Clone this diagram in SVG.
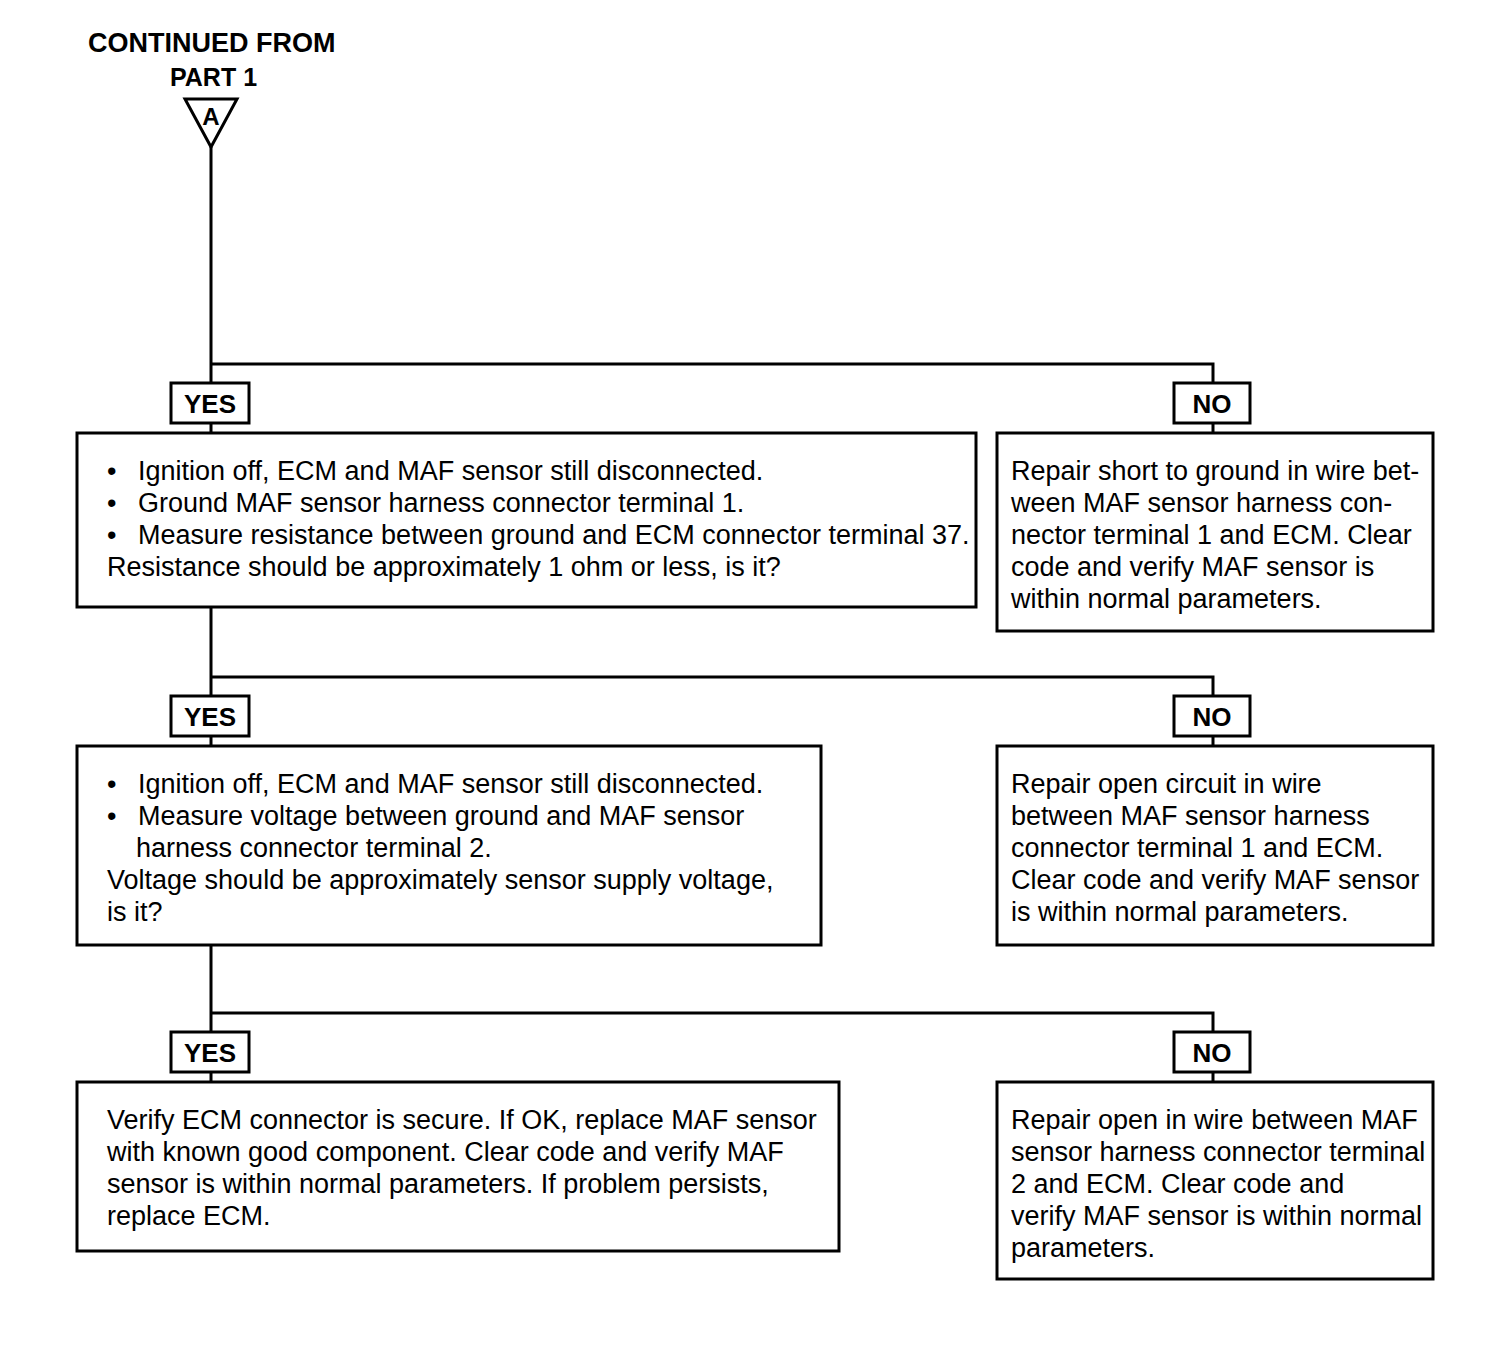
<svg xmlns="http://www.w3.org/2000/svg" width="1504" height="1348" viewBox="0 0 1504 1348">
<style>
.bg{fill:#fff}
.box{fill:#fff;stroke:#000;stroke-width:3}
.ln{fill:none;stroke:#000;stroke-width:3}
.t{font-family:"Liberation Sans",Arial,sans-serif;font-size:27px;fill:#000}
.b{font-family:"Liberation Sans",Arial,sans-serif;font-weight:bold;fill:#000}
.lbl{font-family:"Liberation Sans",Arial,sans-serif;font-size:26px;font-weight:bold;fill:#000;text-anchor:middle}
.tri{font-family:"Liberation Sans",Arial,sans-serif;font-size:24px;font-weight:bold;fill:#000;text-anchor:middle}
</style>
<rect class="bg" x="0" y="0" width="1504" height="1348"/>
<g id="connectors">
<path class="ln" d="M211,147 V364 M211,364 H1213 V383 M211,364 V383 M211,423 V433 M1213,423 V433"/>
<path class="ln" d="M211,607 V677 H1213 V696 M211,677 V696 M211,736 V746 M1213,736 V746"/>
<path class="ln" d="M211,945 V1013 H1213 V1032 M211,1013 V1032 M211,1072 V1082 M1213,1072 V1082"/>
</g>
<g id="start">
<text class="b" x="88" y="52" font-size="27">CONTINUED FROM</text>
<text class="b" x="170" y="86" font-size="25">PART 1</text>
<polygon class="ln" points="185,99 237,99 211,147"/>
<text class="tri" x="211" y="125">A</text>
</g>
<g id="yes1"><rect class="box" x="171" y="383" width="78" height="40"/><text class="lbl" x="210" y="413">YES</text></g>
<g id="no1"><rect class="box" x="1174" y="383" width="76" height="40"/><text class="lbl" x="1212" y="413">NO</text></g>
<g id="step1">
<rect class="box" x="77" y="433" width="899" height="174"/>
<text class="t"><tspan x="107" y="480">•</tspan><tspan x="138" y="480">Ignition off, ECM and MAF sensor still disconnected.</tspan><tspan x="107" y="512">•</tspan><tspan x="138" y="512">Ground MAF sensor harness connector terminal 1.</tspan><tspan x="107" y="544">•</tspan><tspan x="138" y="544">Measure resistance between ground and ECM connector terminal 37.</tspan><tspan x="107" y="576">Resistance should be approximately 1 ohm or less, is it?</tspan></text>
</g>
<g id="repair1">
<rect class="box" x="997" y="433" width="436" height="198"/>
<text class="t"><tspan x="1011" y="480">Repair short to ground in wire bet-</tspan><tspan x="1011" y="512">ween MAF sensor harness con-</tspan><tspan x="1011" y="544">nector terminal 1 and ECM. Clear</tspan><tspan x="1011" y="576">code and verify MAF sensor is</tspan><tspan x="1011" y="608">within normal parameters.</tspan></text>
</g>
<g id="yes2"><rect class="box" x="171" y="696" width="78" height="40"/><text class="lbl" x="210" y="726">YES</text></g>
<g id="no2"><rect class="box" x="1174" y="696" width="76" height="40"/><text class="lbl" x="1212" y="726">NO</text></g>
<g id="step2">
<rect class="box" x="77" y="746" width="744" height="199"/>
<text class="t"><tspan x="107" y="793">•</tspan><tspan x="138" y="793">Ignition off, ECM and MAF sensor still disconnected.</tspan><tspan x="107" y="825">•</tspan><tspan x="138" y="825">Measure voltage between ground and MAF sensor</tspan><tspan x="136" y="857">harness connector terminal 2.</tspan><tspan x="107" y="889">Voltage should be approximately sensor supply voltage,</tspan><tspan x="107" y="921">is it?</tspan></text>
</g>
<g id="repair2">
<rect class="box" x="997" y="746" width="436" height="199"/>
<text class="t"><tspan x="1011" y="793">Repair open circuit in wire</tspan><tspan x="1011" y="825">between MAF sensor harness</tspan><tspan x="1011" y="857">connector terminal 1 and ECM.</tspan><tspan x="1011" y="889">Clear code and verify MAF sensor</tspan><tspan x="1011" y="921">is within normal parameters.</tspan></text>
</g>
<g id="yes3"><rect class="box" x="171" y="1032" width="78" height="40"/><text class="lbl" x="210" y="1062">YES</text></g>
<g id="no3"><rect class="box" x="1174" y="1032" width="76" height="40"/><text class="lbl" x="1212" y="1062">NO</text></g>
<g id="step3">
<rect class="box" x="77" y="1082" width="762" height="169"/>
<text class="t"><tspan x="107" y="1129">Verify ECM connector is secure. If OK, replace MAF sensor</tspan><tspan x="107" y="1161">with known good component. Clear code and verify MAF</tspan><tspan x="107" y="1193">sensor is within normal parameters. If problem persists,</tspan><tspan x="107" y="1225">replace ECM.</tspan></text>
</g>
<g id="repair3">
<rect class="box" x="997" y="1082" width="436" height="197"/>
<text class="t"><tspan x="1011" y="1129">Repair open in wire between MAF</tspan><tspan x="1011" y="1161">sensor harness connector terminal</tspan><tspan x="1011" y="1193">2 and ECM. Clear code and</tspan><tspan x="1011" y="1225">verify MAF sensor is within normal</tspan><tspan x="1011" y="1257">parameters.</tspan></text>
</g>
</svg>
